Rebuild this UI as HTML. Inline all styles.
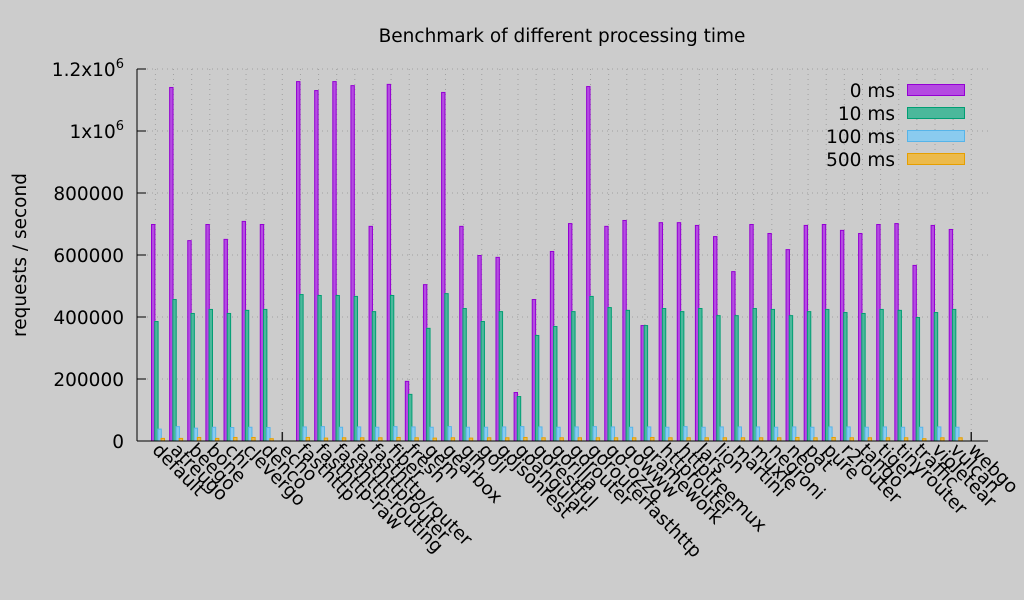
<!DOCTYPE html>
<html><head><meta charset="utf-8">
<style>
html,body{margin:0;padding:0;background:#cccccc;}
svg{display:block;font-family:"DejaVu Sans","Liberation Sans",sans-serif;}
</style></head>
<body>
<svg id="chart" width="1024" height="600" viewBox="0 0 1024 600" xmlns="http://www.w3.org/2000/svg">
<rect x="0" y="0" width="1024" height="600" fill="#cccccc"/>
<text x="562" y="42" font-size="18.5" text-anchor="middle" fill="#000">Benchmark of different processing time</text>
<text transform="translate(26,255) rotate(-90)" font-size="18.5" text-anchor="middle" fill="#000">requests / second</text>
<g id="grid"></g>
<g id="xticks"></g>
<g id="yaxis"></g>
<g id="bars"></g>
<g id="xaxis"></g>
<g id="legend"></g>
</svg>
<script>
const categories = ["default","atreugo","beego","bone","chi","clevergo","denco","echo","fasthttp","fasthttp-raw","fasthttp-routing","fasthttprouter","fasthttp/router","fiber","fresh","gem","gearbox","gin","goji","gojsonrest","goangular","gorestful","gorilla","gorouter","gorouterfasthttp","go-ozzo","gowww","gramework","httprouter","httptreemux","lars","lion","martini","muxie","negroni","neo","pat","pure","r2router","tango","tiger","tinyrouter","traffic","violetear","vulcan","webgo"];
const series0 = [700000,1142000,648000,700000,652000,710000,700000,null,1161000,1132000,1161000,1148000,694000,1152000,194000,506000,1126000,694000,600000,594000,158000,458000,613000,703000,1145000,694000,713000,374000,706000,706000,697000,661000,548000,700000,671000,619000,697000,700000,681000,671000,700000,703000,568000,697000,684000,null];
const series10 = [387000,458000,413000,426000,413000,423000,426000,null,474000,471000,471000,468000,419000,471000,152000,365000,477000,429000,387000,419000,145000,342000,371000,419000,468000,432000,423000,374000,429000,419000,429000,406000,406000,429000,426000,406000,419000,426000,416000,413000,426000,423000,400000,416000,426000,null];
const series100 = [40000,48000,43000,46000,45000,46000,45000,null,47000,48000,46000,47000,46000,48000,47000,46000,48000,46000,46000,47000,48000,47000,46000,47000,48000,47000,46000,47000,46000,48000,46000,47000,47000,47000,46000,47000,46000,47000,47000,46000,47000,46000,46000,47000,46000,null];
const series500 = [10000,10000,13000,10000,13000,13000,9000,null,13000,11000,12000,12000,12000,13000,12000,11000,12000,11000,12000,12000,13000,12000,12000,12000,12000,12000,12000,13000,12000,12000,12000,12000,12000,12000,12000,13000,12000,13000,12000,12000,12000,12000,9000,12000,12000,null];
const yTicks = [0,200000,400000,600000,800000,1000000,1200000];
const yTickLabels = ["0","200000","400000","600000","800000","1x10^6","1.2x10^6"];
const seriesNames = ["0 ms","10 ms","100 ms","500 ms"];

const NS="http://www.w3.org/2000/svg";
const X0=137, X1=988, Y0=441, Y1=69, YMAX=1200000;
const colors=["#9400d3","#009e73","#56b4e9","#e69f00"];
const fills=["#b44be1","#4bb89b","#8acbef","#ecba4b"];
function yScale(v){return Y0-(v/YMAX)*(Y0-Y1);}
function xTick(i){return 155.4+18.13*i;}
function xBar(i,s){return xTick(i)-4.4+s*3.2;}
function mk(tag,attrs,parent){const e=document.createElementNS(NS,tag);for(const k in attrs)e.setAttribute(k,attrs[k]);parent.appendChild(e);return e;}

const grid=document.getElementById('grid'), xticks=document.getElementById('xticks'), yaxis=document.getElementById('yaxis'), bars=document.getElementById('bars'), xaxis=document.getElementById('xaxis'), legend=document.getElementById('legend');

yTicks.forEach((v,k)=>{
  const y=yScale(v);
  if(k>0){const g=mk('line',{x1:X0,x2:X1,y1:y,y2:y,stroke:'#a0a0a0','stroke-width':1,'stroke-dasharray':'1,4'},grid);
  
  }
  const t=mk('line',{x1:X0,x2:X0+9,y1:y,y2:y,stroke:'#000','stroke-width':1},yaxis);
  
  
  const lab=yTickLabels[k];
  const tx=mk('text',{x:124,y:y+7,'font-size':18.5,'text-anchor':'end',fill:'#000'},yaxis);
  
  
  if(lab.indexOf('^')>=0){const p=lab.split('^');tx.textContent=p[0];const sp=mk('tspan',{dy:-8,'font-size':13},tx);sp.textContent=p[1];}
  else tx.textContent=lab;
});
const yl=mk('line',{x1:X0,x2:X0,y1:Y1,y2:Y0,stroke:'#000','stroke-width':1},yaxis);



categories.forEach((c,i)=>{
  const x=xTick(i);
  const g=mk('line',{x1:x,x2:x,y1:Y1,y2:Y0-9,stroke:'#a0a0a0','stroke-width':1,'stroke-dasharray':'1,4'},grid);
  
  
  const t=mk('line',{x1:x,x2:x,y1:Y0,y2:Y0-9,stroke:'#222','stroke-width':1.5},xticks);
  
  
  const tx=mk('text',{transform:'translate('+(x-4)+',451) rotate(45)','font-size':18.5,fill:'#000'},xaxis);
  
  
  tx.textContent=c;
});
const xl=mk('line',{x1:X0,x2:X1,y1:Y0,y2:Y0,stroke:'#000','stroke-width':1},xaxis);



[series0,series10,series100,series500].forEach((arr,s)=>{
  arr.forEach((v,i)=>{
    if(v==null)return;
    const y=yScale(v);
    const r=mk('rect',{x:xBar(i,s)+0.5,y:y+0.5,width:3.4,height:Math.max(Y0-y-0.5,0.5),fill:fills[s],stroke:colors[s],'stroke-width':1},bars);
    
    
  });
});

seriesNames.forEach((n,k)=>{
  const cy=90+k*23;
  const t=mk('text',{x:895,y:cy+7,'font-size':18.5,'text-anchor':'end',fill:'#000'},legend);
  
  
  t.textContent=n;
  const r=mk('rect',{x:907.5,y:cy-5.5,width:57,height:11,fill:fills[k],stroke:colors[k],'stroke-width':1},legend);
  
  
});
</script>
</body></html>
